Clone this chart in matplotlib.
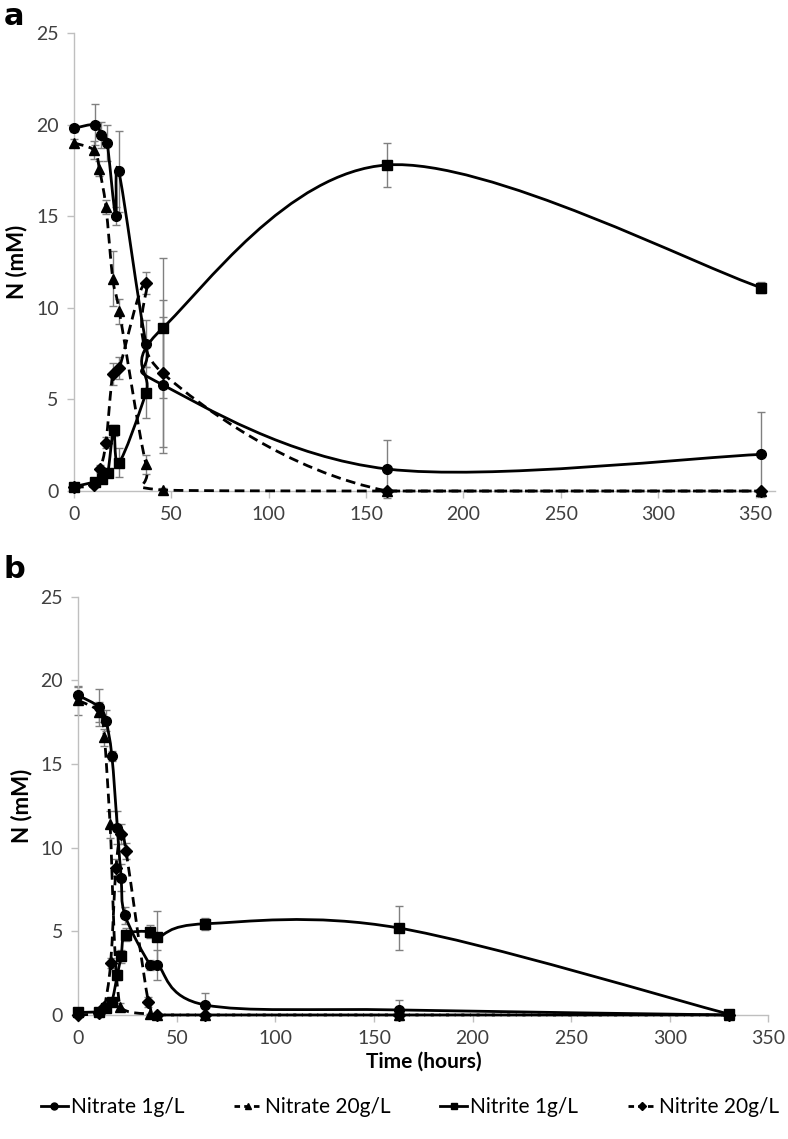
import matplotlib
matplotlib.use("Agg")
import matplotlib.pyplot as plt
from matplotlib.path import Path
from matplotlib.patches import PathPatch
from matplotlib.lines import Line2D
import numpy as np

plt.rcParams['font.family'] = ['Lato', 'DejaVu Sans']

# ---- panel a data (hours, mM) ----
a_no3_1_t = [0, 11, 14, 17, 21.4, 23, 37, 45.5, 161, 353]
a_no3_1 = [19.8, 20.0, 19.45, 19.0, 15.0, 17.45, 8.05, 5.8, 1.2, 2.0]
a_no3_1_err = [0.2, 1.1, 0.7, 1.0, 0.5, 2.2, 1.3, 3.7, 1.6, 2.3]

a_no3_20_t = [0, 10.4, 13, 16.4, 19.9, 23.3, 37, 45.6, 161, 353]
a_no3_20 = [19.0, 18.6, 17.6, 15.5, 11.6, 9.8, 1.45, 0.05, 0, 0]
a_no3_20_err = [0.2, 0.5, 0.4, 0.4, 1.5, 0.7, 0.5, 0.1, 0, 0]

a_no2_1_t = [0, 10.8, 14.2, 17.3, 20.4, 23.1, 37, 45.6, 161, 353]
a_no2_1 = [0.24, 0.5, 0.64, 0.97, 3.33, 1.55, 5.37, 8.9, 17.8, 11.1]
a_no2_1_err = [0.05, 0.1, 0.1, 0.2, 0.3, 0.8, 1.4, 3.8, 1.2, 0.3]

a_no2_20_t = [0, 10.4, 13.5, 16.4, 19.9, 23.3, 37, 45.6, 161, 353]
a_no2_20 = [0.2, 0.35, 1.2, 2.64, 6.37, 6.73, 11.37, 6.42, 0, 0]
a_no2_20_err = [0.05, 0.1, 0.2, 0.3, 0.6, 0.6, 0.6, 4.0, 0, 0]

# ---- panel b data ----
b_no3_1_t = [0, 10.7, 14, 17, 19.8, 21.7, 23.7, 36.4, 40.1, 64.3, 162.5, 330]
b_no3_1 = [19.1, 18.4, 17.6, 15.5, 11.2, 8.2, 5.95, 3.0, 3.0, 0.6, 0.3, 0.0]
b_no3_1_err = [0.5, 1.1, 0.6, 0.3, 1.0, 0.8, 0.5, 0.3, 0.9, 0.7, 0.6, 0]

b_no3_20_t = [0, 10.7, 13.2, 16.1, 21.2, 36.4, 40.1, 64.3, 162.5, 330]
b_no3_20 = [18.8, 18.1, 16.6, 11.4, 0.5, 0.05, 0, 0, 0, 0]
b_no3_20_err = [0.85, 0.6, 0.5, 0.8, 0.2, 0, 0, 0, 0, 0]

b_no2_1_t = [0, 10.7, 14, 17, 19.8, 21.7, 24, 36.4, 40.1, 64.3, 162.5, 330]
b_no2_1 = [0.15, 0.2, 0.4, 0.8, 2.4, 3.5, 4.8, 4.98, 4.64, 5.45, 5.2, 0.05]
b_no2_1_err = [0.05, 0.05, 0.1, 0.2, 0.3, 0.4, 0.4, 0.4, 1.6, 0.35, 1.3, 0.05]

b_no2_20_t = [0, 10.7, 13.2, 16.4, 19.1, 21.7, 24.2, 35.5, 40.1, 64.3, 162.5, 330]
b_no2_20 = [0.0, 0.1, 0.5, 3.1, 8.8, 10.8, 9.8, 0.8, 0.0, 0, 0, 0]
b_no2_20_err = [0, 0.05, 0.1, 0.3, 0.5, 0.6, 0.5, 0.3, 0, 0, 0, 0]

labels = ['Nitrate 1g/L', 'Nitrate 20g/L', 'Nitrite 1g/L', 'Nitrite 20g/L']
markers = ['o', '^', 's', 'D']
styles = ['-', '--', '-', '--']
msizes = [7, 7.5, 7, 6]


def smooth_path(t, y):
    # excel-like smoothed line: catmull-rom as cubic bezier,
    # control points kept >= 0 so the curve never dips below zero
    p = np.column_stack([t, y]).astype(float)
    n = len(p)
    verts = [p[0]]
    codes = [Path.MOVETO]
    for i in range(n - 1):
        p0 = p[i - 1] if i > 0 else p[i]
        p3 = p[i + 2] if i + 2 < n else p[i + 1]
        c1 = p[i] + (p[i + 1] - p0) / 6.0
        c2 = p[i + 1] - (p3 - p[i]) / 6.0
        c1[1] = max(c1[1], 0)
        c2[1] = max(c2[1], 0)
        verts += [c1, c2, p[i + 1]]
        codes += [Path.CURVE4] * 3
    return Path(verts, codes)


def draw_panel(ax, series, xmax):
    for k, (t, y, e) in enumerate(series):
        ax.errorbar(t, y, yerr=e, fmt='none', ecolor='#808080', elinewidth=1,
                    capsize=3, capthick=1, zorder=2, clip_on=False)
        ls = '-' if styles[k] == '-' else (0, (3.5, 2))
        ax.add_patch(PathPatch(smooth_path(t, y), fill=False, edgecolor='black',
                               lw=2, linestyle=ls, zorder=3, clip_on=False))
        ax.plot(t, y, linestyle='none', marker=markers[k], ms=msizes[k], color='black',
                zorder=4, clip_on=False)
    ax.set_xlim(0, xmax)
    ax.set_ylim(0, 25)
    ax.set_xticks(range(0, 351, 50))
    ax.set_yticks(range(0, 26, 5))
    for s in ['top', 'right']:
        ax.spines[s].set_visible(False)
    for s in ['left', 'bottom']:
        ax.spines[s].set_color('#bfbfbf')
        ax.spines[s].set_linewidth(1)
    ax.tick_params(direction='out', length=5, width=1, color='#bfbfbf',
                   labelsize=14, labelcolor='#404040', pad=6)
    ax.set_ylabel('N (mM)', fontsize=16, fontweight='bold', labelpad=6)


fig = plt.figure(figsize=(7.88, 11.39), dpi=100)
ax_a = fig.add_axes([0.0939, 0.5689, 0.8896, 0.4021])
ax_b = fig.add_axes([0.0994, 0.1089, 0.8756, 0.3672])

draw_panel(ax_a, [(a_no3_1_t, a_no3_1, a_no3_1_err),
                  (a_no3_20_t, a_no3_20, a_no3_20_err),
                  (a_no2_1_t, a_no2_1, a_no2_1_err),
                  (a_no2_20_t, a_no2_20, a_no2_20_err)], 360)
draw_panel(ax_b, [(b_no3_1_t, b_no3_1, b_no3_1_err),
                  (b_no3_20_t, b_no3_20, b_no3_20_err),
                  (b_no2_1_t, b_no2_1, b_no2_1_err),
                  (b_no2_20_t, b_no2_20, b_no2_20_err)], 350)
ax_b.set_xlabel('Time (hours)', fontsize=15, fontweight='bold', labelpad=3)

fig.text(0.005, 0.998, 'a', fontsize=22, fontweight='bold', va='top', family='DejaVu Sans')
fig.text(0.005, 0.513, 'b', fontsize=22, fontweight='bold', va='top', family='DejaVu Sans')

handles = [Line2D([], [], color='black', lw=2,
                  linestyle=styles[k] if styles[k] == '-' else (0, (2, 1.5)),
                  marker=markers[k], ms=5 if k != 3 else 4)
           for k in range(4)]
fig.legend(handles, labels, loc='center', bbox_to_anchor=(0.52, 0.028), ncol=4,
           frameon=False, fontsize=15, handlelength=1.3, handletextpad=0.15,
           columnspacing=2.4)

fig.savefig('out.png', dpi=100)
